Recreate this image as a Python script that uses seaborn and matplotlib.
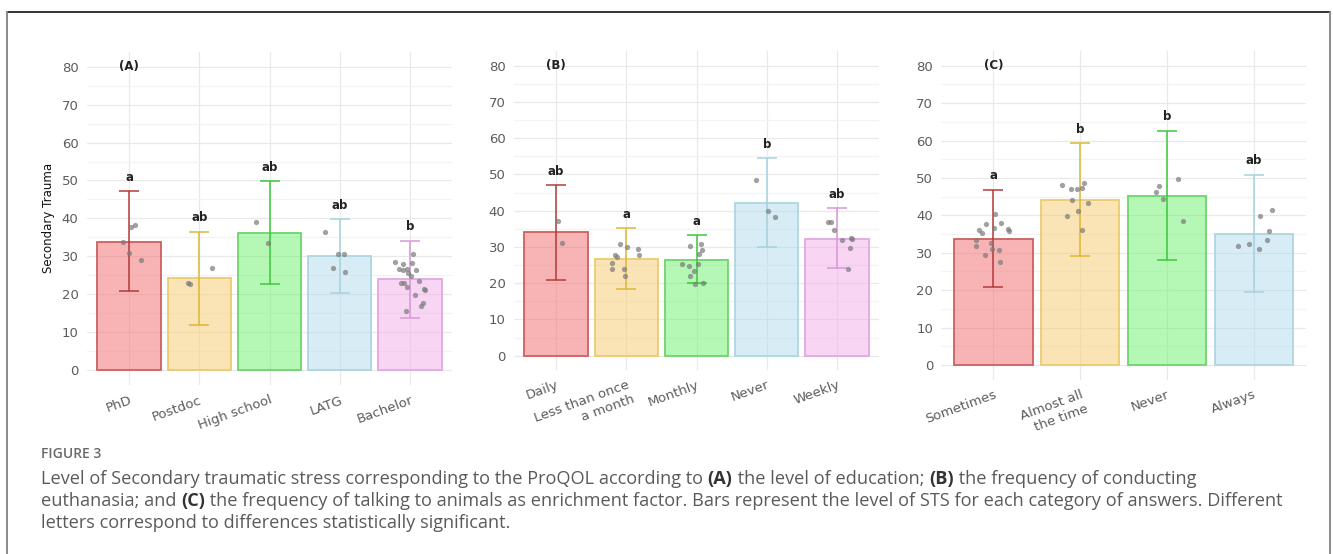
import numpy as np
import pandas as pd
import matplotlib
matplotlib.use("Agg")
import matplotlib.pyplot as plt
from matplotlib.colors import to_rgba
from matplotlib.lines import Line2D
import seaborn as sns

# ---- data ----
edu_cats = ["PhD", "Postdoc", "High school", "LATG", "Bachelor"]
edu_mean = [33.8, 24.2, 36.2, 30.1, 23.9]
edu_lo = [20.8, 12.0, 22.8, 20.2, 13.6]
edu_hi = [47.2, 36.4, 49.8, 39.8, 34.1]
edu_letters = ["a", "ab", "ab", "ab", "b"]
edu_points = [
    [37.8, 38.2, 33.7, 30.8, 29.0],
    [27.0, 22.9, 22.6],
    [39.0, 33.6],
    [36.5, 30.5, 30.5, 27.0, 25.8],
    [30.7, 28.4, 28.3, 28.0, 26.7, 26.5, 26.4, 25.5, 26.6, 24.8,
     23.6, 23.0, 22.9, 22.0, 21.3, 21.1, 19.8, 17.7, 17.0, 15.6],
]

eut_cats = ["Daily", "Less than once\na month", "Monthly", "Never", "Weekly"]
eut_mean = [34.0, 26.8, 26.3, 42.0, 32.3]
eut_lo = [20.9, 18.3, 20.0, 30.1, 24.1]
eut_hi = [47.1, 35.1, 33.2, 54.4, 40.7]
eut_letters = ["ab", "a", "a", "b", "ab"]
eut_points = [
    [37.1, 31.1],
    [30.8, 29.9, 29.4, 27.8, 27.7, 27.1, 25.5, 23.8, 23.8, 22.0],
    [30.8, 30.3, 29.1, 28.0, 25.3, 25.2, 24.8, 23.4, 22.0, 20.1, 19.7],
    [48.6, 39.8, 38.2],
    [36.8, 36.8, 34.7, 32.6, 32.1, 32.0, 29.6, 24.0],
]

talk_cats = ["Sometimes", "Almost all\nthe time", "Never", "Always"]
talk_mean = [33.8, 44.2, 45.3, 35.0]
talk_lo = [20.8, 29.2, 28.0, 19.6]
talk_hi = [46.9, 59.3, 62.6, 50.8]
talk_letters = ["a", "b", "b", "ab"]
talk_points = [
    [40.4, 38.0, 37.6, 36.7, 36.3, 35.8, 36.1, 35.2, 33.4, 32.7,
     31.8, 30.9, 30.7, 29.4, 27.6],
    [48.7, 48.0, 47.2, 47.1, 47.1, 44.2, 43.2, 41.2, 39.8, 36.2],
    [49.7, 47.9, 46.2, 44.5, 38.6],
    [41.3, 39.9, 35.7, 33.5, 32.3, 31.9, 31.0],
]

fill_base = ["#F36B6B", "#F7CB6D", "#6DF16D", "#B1DBEB", "#F1ADE9"]
edge_cols = ["#CC6060", "#EBCB6E", "#6ED46E", "#AED6E2", "#E2A8E2"]
err_cols = ["#B33A3A", "#DDB838", "#3CC83C", "#A6D2DE", "#D898D8"]

W, H = 1333, 554
sns.set_style("white")
plt.rcParams["font.family"] = ["DejaVu Sans"]
fig = plt.figure(figsize=(W / 100, H / 100), dpi=100)


def px_axes(left, right, top, bottom):
    return fig.add_axes([left / W, 1 - bottom / H, (right - left) / W, (bottom - top) / H])


def panel(ax, cats, mean, lo, hi, letters, points, tag):
    n = len(cats)
    ax.set_axisbelow(True)
    sns.barplot(x=cats, y=mean, hue=cats, order=cats, hue_order=cats,
                palette=fill_base[:n], width=0.9, errorbar=None,
                legend=False, ax=ax, zorder=2)
    for p, fc, ec in zip(ax.patches, fill_base, edge_cols):
        p.set_facecolor(to_rgba(fc, 0.5))
        p.set_edgecolor(ec)
        p.set_linewidth(1.3)
    for i in range(n):
        ax.errorbar(i, mean[i], yerr=[[mean[i] - lo[i]], [hi[i] - mean[i]]],
                    color=err_cols[i], capsize=7, elinewidth=1.1,
                    capthick=1.1, fmt="none", zorder=3)
        ax.text(i, hi[i] + 2, letters[i], ha="center", va="bottom",
                fontsize=8.5, fontweight="bold", color="#222222", zorder=5)
    long = pd.DataFrame({
        "cat": [c for c, pts in zip(cats, points) for _ in pts],
        "val": [v for pts in points for v in pts],
    })
    np.random.seed(3)
    sns.stripplot(data=long, x="cat", y="val", order=cats, jitter=0.22,
                  color="#7a7a7a", alpha=0.7, size=3.8, linewidth=0,
                  ax=ax, zorder=4)
    ax.text(0, 80, tag, ha="center", va="center", fontsize=8.5,
            fontweight="bold", color="#222222")
    ax.set_ylim(-4, 84)
    ax.set_xlim(-0.6, n - 0.4)
    ax.set_yticks(range(0, 81, 10))
    ax.set_yticks(range(5, 80, 10), minor=True)
    ax.grid(which="major", color="#E9E9E9", lw=0.9)
    ax.grid(which="minor", axis="y", color="#F3F3F3", lw=0.9)
    for s in ax.spines.values():
        s.set_visible(False)
    ax.tick_params(which="both", length=0, labelsize=9.5, labelcolor="#5c5c5c")
    ax.tick_params(axis="x", pad=6)
    ax.tick_params(axis="y", pad=6)
    plt.setp(ax.get_xticklabels(), rotation=20, ha="right",
             rotation_mode="anchor")
    ax.set_xlabel("")
    ax.set_ylabel("")


axA = px_axes(86.9, 452.2, 51.6, 385.2)
panel(axA, edu_cats, edu_mean, edu_lo, edu_hi, edu_letters, edu_points, "(A)")
axA.set_ylabel("Secondary Trauma", fontsize=8.5, color="#111111",
               family=["Liberation Sans Narrow", "DejaVu Sans"], labelpad=5)

axB = px_axes(513.9, 879.2, 51.2, 370.2)
panel(axB, eut_cats, eut_mean, eut_lo, eut_hi, eut_letters, eut_points, "(B)")

axC = px_axes(941.5, 1305.5, 50.7, 380.0)
panel(axC, talk_cats, talk_mean, talk_lo, talk_hi, talk_letters, talk_points, "(C)")

# ---- frame ----
fig.add_artist(Line2D([7 / W, 1330 / W], [1 - 12 / H, 1 - 12 / H], color="#333333", lw=1.4))
fig.add_artist(Line2D([7 / W, 7 / W], [0, 1 - 12 / H], color="#8a8a8a", lw=1.4))
fig.add_artist(Line2D([1330 / W, 1330 / W], [0, 1 - 12 / H], color="#8a8a8a", lw=1.4))

# ---- caption ----
renderer = fig.canvas.get_renderer()
cap_font = ["Open Sans", "DejaVu Sans"]


def rich_line(x_px, base_px, parts, size=13.1):
    x = x_px / W
    for txt, bold in parts:
        t = fig.text(x, 1 - base_px / H, txt, fontsize=size, va="baseline",
                     family=cap_font,
                     fontweight="bold" if bold else "normal",
                     color="#333333" if bold else "#5a5a5a")
        x += t.get_window_extent(renderer).width / W


fig.text(41 / W, 1 - 458 / H, "FIGURE 3", fontsize=10, va="baseline",
         family=cap_font, fontweight="semibold", color="#6a6a6a")
rich_line(41, 484, [
    ("Level of Secondary traumatic stress corresponding to the ProQOL according to ", False),
    ("(A)", True), (" the level of education; ", False), ("(B)", True),
    (" the frequency of conducting", False)])
rich_line(41, 506, [
    ("euthanasia; and ", False), ("(C)", True),
    (" the frequency of talking to animals as enrichment factor. Bars represent the level of STS for each category of answers. Different", False)])
rich_line(41, 528, [("letters correspond to differences statistically significant.", False)])

fig.savefig("out.png", dpi=100)
